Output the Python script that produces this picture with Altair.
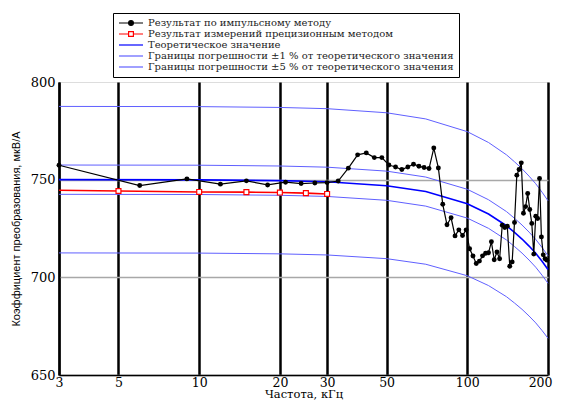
import altair as alt
import pandas as pd

# ---- data ----
imp_freq = [3, 6, 9, 12, 15, 18, 21, 24, 27, 30, 33, 36, 39, 42, 45, 48, 51, 54, 57, 60,
            63, 66, 69, 72, 75, 78, 81, 84, 87, 90, 93, 96, 99, 102, 105, 108, 111, 114,
            117, 120, 123, 126, 129, 132, 135, 138, 141, 144, 147, 150, 153, 156, 159, 162,
            165, 168, 171, 174, 177, 180, 183, 186, 189, 192, 195, 198]
imp_vals = [757.4, 747.0, 750.4, 747.7, 749.4, 747.3, 748.7, 748.0, 748.3, 748.5,
            749.3, 755.9, 762.7, 763.7, 761.3, 761.3, 757.5, 756.5, 755.2, 756.5,
            757.9, 756.9, 756.2, 755.7, 766.2, 756.0, 737.4, 726.9, 730.5, 721.2,
            724.3, 721.4, 724.3, 714.6, 710.9, 707.1, 708.3, 711.0, 712.3, 712.6,
            718.2, 709.0, 713.0, 709.5, 726.7, 725.5, 726.2, 705.7, 707.9, 728.1,
            752.3, 755.2, 758.6, 732.8, 736.2, 742.9, 734.7, 727.6, 711.9, 731.3,
            730.1, 750.6, 720.7, 711.5, 709.5, 708.8]

prec_freq = [3, 5, 10, 15, 20, 25, 30]
prec_vals = [744.6, 744.2, 743.7, 743.6, 743.4, 743.1, 742.7]

theo_freq = [3, 10, 20, 30, 50, 70, 100, 120, 140, 150, 160, 170, 180, 190, 200]
theo_vals = [750.0, 749.9, 749.5, 748.9, 746.9, 743.9, 737.7, 732.4, 726.4, 723.0,
             719.6, 716.0, 712.3, 708.2, 704.0]

band_pcts = [5, 1, -1, -5]

legend_labels = [
    "Результат по импульсному методу",
    "Результат измерений прецизионным методом",
    "Теоретическое значение",
    "Границы погрешности ±1 % от теоретического значения",
    "Границы погрешности ±5 % от теоретического значения",
]
x_ticks = [3, 5, 10, 20, 30, 50, 100, 200]
y_ticks = [650, 700, 750, 800]

BAND = "#6060ff"
stroke_colors = ["#000000", "#ff0000", "#0000ff", BAND, BAND]
fill_colors = ["#000000", "#ffffff", "transparent", "transparent", "transparent"]
shape_paths = [
    "M-3,0H3M-0.6,0A0.6,0.6,0,1,1,0.6,0A0.6,0.6,0,1,1,-0.6,0Z",
    "M-3,0H-0.6M0.6,0H3M-0.6,-0.6H0.6V0.6H-0.6Z",
    "M-3,0H3",
    "M-3,0H3",
    "M-3,0H3",
]

imp_df = pd.DataFrame({"f": imp_freq, "v": imp_vals})
prec_df = pd.DataFrame({"f": prec_freq, "v": prec_vals})
theo_df = pd.DataFrame({"f": theo_freq, "v": theo_vals})
band_rows = []
for p in band_pcts:
    for f, v in zip(theo_freq, theo_vals):
        band_rows.append({"f": f, "v": v * (1 + p / 100.0), "band": str(p)})
band_df = pd.DataFrame(band_rows)
legend_df = pd.DataFrame({"series": legend_labels})

SERIF = "DejaVu Serif"

X = alt.X(
    "f:Q",
    scale=alt.Scale(type="log", domain=[3, 200], nice=False),
    axis=alt.Axis(
        values=x_ticks, format="d", title="Частота, кГц",
        grid=True, gridColor="#000000", gridWidth=2.5,
        domainColor="#000000", domainWidth=1.5, ticks=False,
        labelFont=SERIF, labelFontSize=12.5, labelColor="#000000", labelPadding=1.5,
        labelFlush=False, labelOverlap=False,
        labelAlign={"condition": {"test": "datum.value == 200", "value": "right"},
                    "value": "center"},
        labelOffset={"condition": {"test": "datum.value == 200", "value": 4},
                     "value": 0},
        titleFont=SERIF, titleFontSize=11.5, titleFontWeight="normal",
        titleColor="#000000", titleBaseline="alphabetic", titleY=22.5,
    ),
)
Y = alt.Y(
    "v:Q",
    scale=alt.Scale(domain=[650, 800], nice=False, zero=False),
    axis=alt.Axis(
        values=y_ticks, title="Коэффициент преобразования, мкВ/А",
        grid=True,
        gridColor={"condition": {"test": "datum.value == 800", "value": "transparent"},
                   "value": "#a8a8a8"},
        gridWidth=1.5,
        domainColor="#000000", domainWidth=2, ticks=False,
        labelFont=SERIF, labelFontSize=13, labelColor="#000000", labelPadding=4,
        labelFlush=False,
        titleFont="Liberation Sans", titleFontSize=11, titleFontWeight="normal",
        titleColor="#000000", titlePadding=9,
    ),
)

bands = alt.Chart(band_df).mark_line(color=BAND, strokeWidth=1).encode(
    x=X, y=Y, detail="band:N"
)
theo = alt.Chart(theo_df).mark_line(color="#0000ff", strokeWidth=1.6).encode(x=X, y=Y)
prec_line = alt.Chart(prec_df).mark_line(color="#ff0000", strokeWidth=1.6).encode(x=X, y=Y)
prec_pts = alt.Chart(prec_df).transform_filter("datum.f >= 5").mark_point(
    shape="square", size=24, fill="#ffffff", stroke="#ff0000", strokeWidth=1.2,
    filled=False, opacity=1
).encode(x=X, y=Y)
imp_line = alt.Chart(imp_df).mark_line(color="#000000", strokeWidth=1.2).encode(x=X, y=Y)
imp_pts = alt.Chart(imp_df).mark_circle(size=24, color="#000000", opacity=1).encode(x=X, y=Y)

leg = dict(
    orient="none", legendX=54, legendY=-69, title=None,
    labelFont=SERIF, labelFontSize=10, labelColor="#222222", labelLimit=500,
    symbolSize=64, symbolStrokeWidth=1.2, symbolOffset=8, labelOffset=12,
    padding=5, strokeColor="#000000", fillColor="#ffffff", rowPadding=1,
)
legend_layer = alt.Chart(legend_df).transform_filter("false").mark_point(
    opacity=1, strokeWidth=1.2
).encode(
    stroke=alt.Stroke("series:N", scale=alt.Scale(domain=legend_labels, range=stroke_colors),
                      legend=alt.Legend(**leg)),
    fill=alt.Fill("series:N", scale=alt.Scale(domain=legend_labels, range=fill_colors),
                  legend=alt.Legend(**leg)),
    shape=alt.Shape("series:N", scale=alt.Scale(domain=legend_labels, range=shape_paths),
                    legend=alt.Legend(**leg)),
)

chart = alt.layer(
    bands, theo, prec_line, prec_pts, imp_line, imp_pts, legend_layer
).properties(
    width=489, height=293,
    padding={"left": 51, "top": 74, "right": 5, "bottom": 25},
    autosize=alt.AutoSizeParams(type="none"),
).configure_view(stroke=None).configure(background="#ffffff")

chart.save("out.html", embed_options={"renderer": "svg", "actions": False})
